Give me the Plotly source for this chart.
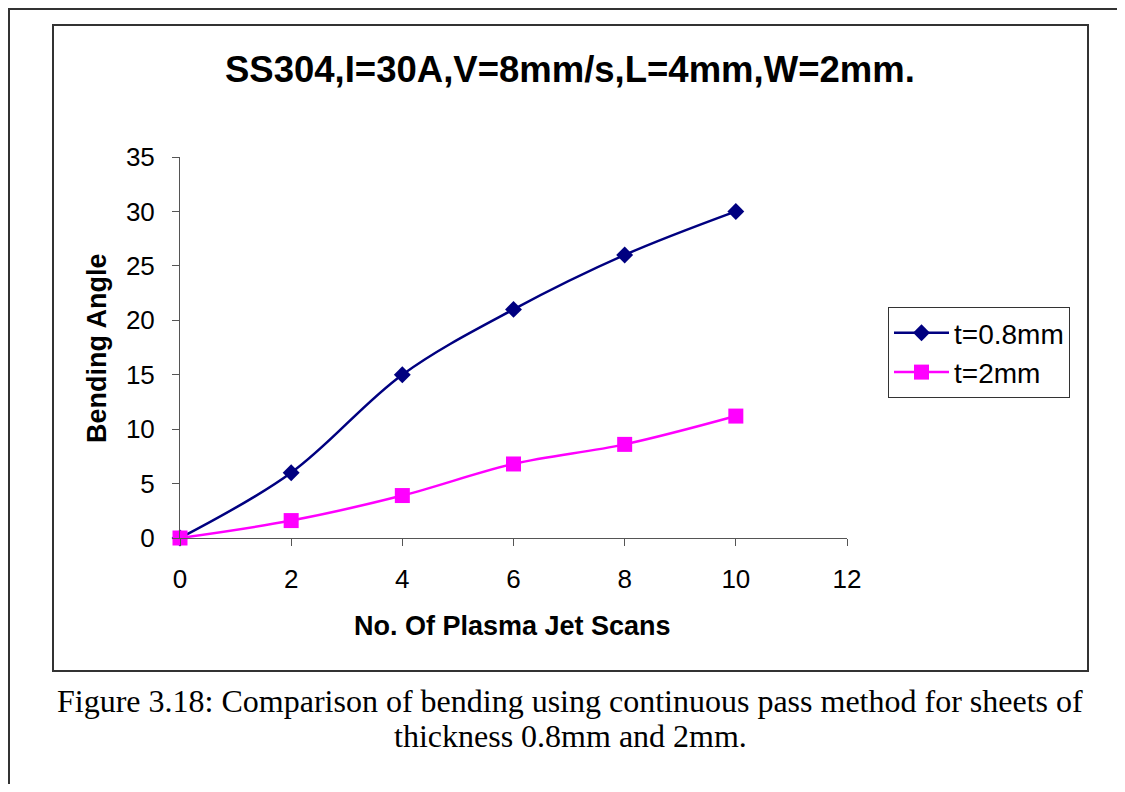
import plotly.graph_objects as go

scans = [0, 2, 4, 6, 8, 10]
t08 = [0, 6, 15, 21, 26, 30]
t2 = [0, 1.6, 3.9, 6.8, 8.6, 11.2]
x_ticks = [0, 2, 4, 6, 8, 10, 12]
y_ticks = [0, 5, 10, 15, 20, 25, 30, 35]

# figure sized to fit the window inside the default 8px page margin
OFF = 8
W, H = 1125 - 2 * OFF, 792 - 2 * OFF
def px(x):
    return (x - OFF) / W
def py(y):
    return 1 - (y - OFF) / H

fig = go.Figure()
fig.add_trace(go.Scatter(
    x=scans, y=t08, name="t=0.8mm", mode="lines+markers",
    line=dict(color="#000080", width=2.5, shape="spline", smoothing=1.0),
    marker=dict(symbol="diamond", size=13, color="#000080"),
    cliponaxis=False,
))
fig.add_trace(go.Scatter(
    x=scans, y=t2, name="t=2mm", mode="lines+markers",
    line=dict(color="#FF00FF", width=2.5, shape="spline", smoothing=1.0),
    marker=dict(symbol="square", size=15, color="#FF00FF"),
    cliponaxis=False,
))

axis_color = "#555555"
fig.update_layout(
    template="none",
    width=W, height=H,
    margin=dict(l=0, r=0, t=0, b=0, autoexpand=False),
    paper_bgcolor="white", plot_bgcolor="white",
    font=dict(family="Liberation Sans, Arial, sans-serif", size=26, color="black"),
    showlegend=True,
    legend=dict(
        x=px(888), y=py(307), xanchor="left", yanchor="top",
        bordercolor="#333333", borderwidth=1, bgcolor="white",
        font=dict(size=28), itemwidth=55, tracegroupgap=0,
    ),
    xaxis=dict(
        domain=[px(180), px(847)], range=[0, 12],
        tickvals=x_ticks, ticks="outside", ticklen=7, tickcolor=axis_color,
        showline=True, linecolor=axis_color, linewidth=1,
        showgrid=False, zeroline=False, tickfont=dict(size=26),
        ticklabelstandoff=11, anchor="y", automargin=False,
    ),
    yaxis=dict(
        domain=[py(538), py(157)], range=[0, 35],
        tickvals=y_ticks, ticks="outside", ticklen=7, tickcolor=axis_color,
        showline=True, linecolor=axis_color, linewidth=1,
        showgrid=False, zeroline=False, tickfont=dict(size=26),
        ticklabelstandoff=12, anchor="x", automargin=False,
    ),
)

# borders
fig.add_shape(type="rect", xref="paper", yref="paper",
              x0=px(9), x1=px(1140), y0=py(800), y1=py(9),
              line=dict(color="#333333", width=2))
fig.add_shape(type="rect", xref="paper", yref="paper",
              x0=px(53), x1=px(1088), y0=py(671), y1=py(25),
              line=dict(color="#333333", width=2))

def note(text, x, y, font, **kw):
    fig.add_annotation(text=text, xref="paper", yref="paper", x=px(x), y=py(y),
                       xanchor="center", yanchor="middle", showarrow=False,
                       font=font, **kw)

note("<b>SS304,I=30A,V=8mm/s,L=4mm,W=2mm.</b>", 570, 70, dict(size=36.5))
note("<b>Bending Angle</b>", 97, 348, dict(size=27), textangle=-90)
note("<b>No. Of Plasma Jet Scans</b>", 513, 626, dict(size=27))
serif = dict(family="Liberation Serif, Times New Roman, serif", size=32)
note("Figure 3.18: Comparison of bending using continuous pass method for sheets of", 570, 701, serif)
note("thickness 0.8mm and 2mm.", 570, 736, serif)

fig.write_html("out.html")
